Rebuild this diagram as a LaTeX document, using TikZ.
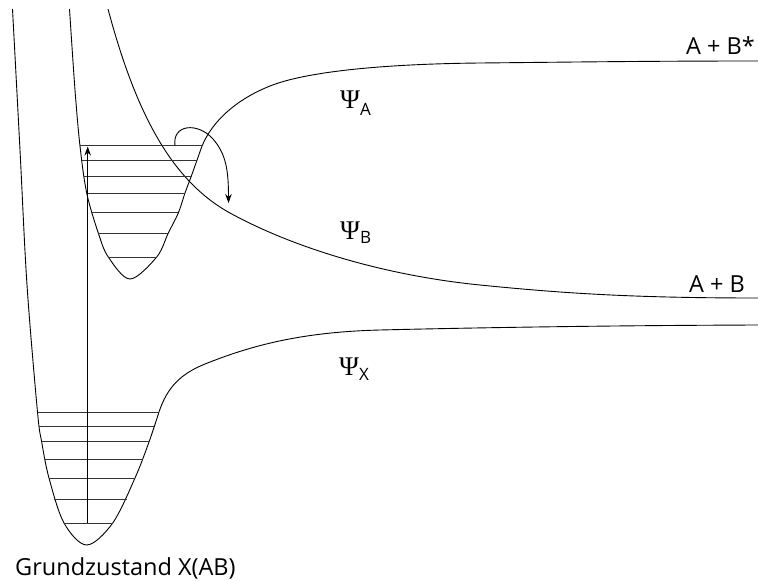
\documentclass[tikz,border=0pt]{standalone}
\usepackage{fontspec}
\setmainfont{Open Sans}
\newfontfamily\grk{Liberation Serif}
\usetikzlibrary{arrows.meta}
\begin{document}
\begin{tikzpicture}[x=1pt,y=-1pt,
  curve/.style={line width=0.9pt, black},
  level/.style={line width=0.8pt, black!80},
  arr/.style={line width=0.9pt, -{Stealth[length=9pt,width=6.5pt]}},
  lbl/.style={inner sep=0pt, font=\fontsize{23.5}{24}\selectfont},
]
\useasboundingbox (0,0) rectangle (758,581);

% ground state X
\draw[curve] plot[smooth, tension=0.55] coordinates {
  (12.5,9) (20,150) (27,285) (37.5,412) (41.7,442) (49,478) (64,523)
  (86.7,545) (112.7,523) (135,478) (149,442) (159,412)};
\draw[curve] (159,412) .. controls (167,388) and (180,374) .. (205,364)
  .. controls (250,346) and (300,332) .. (380,330)
  .. controls (460,328) and (600,325.5) .. (758,325);
% excited state A
\draw[curve] plot[smooth, tension=0.55] coordinates {
  (69.5,9) (75,90) (80,146) (86.7,193) (98.3,233) (108.3,257)
  (130,279) (156.7,257) (168.3,233) (178.3,213) (185,193) (191,177)
  (196.7,161) (202,146)};
\draw[curve] (202,146) .. controls (212,122) and (235,100) .. (270,86)
  .. controls (305,72) and (380,64) .. (480,63)
  .. controls (580,62) and (650,61) .. (758,61);
% repulsive state B
\draw[curve] (108,9) .. controls (135,110) and (170,180) .. (230,213)
  .. controls (290,246) and (380,275) .. (480,285)
  .. controls (560,293) and (630,298) .. (758,298);

% vibrational levels X
\foreach \y/\a/\b in {412/37.7/159, 426/39.2/154, 441.7/41.7/149,
  459/45/142.7, 478.3/49/135, 499/54/126.7, 523.3/64/112.7}
  \draw[level] (\a,\y) -- (\b,\y);
% vibrational levels A
\foreach \y/\a/\b in {145.7/80/202, 160.7/81.8/196.7, 176.7/84.2/191,
  193.3/86.8/185, 212.7/91.7/178.3, 233.3/98.3/168.3, 257.3/108.3/156.7}
  \draw[level] (\a,\y) -- (\b,\y);

% transitions
\coordinate (g0) at (87.7,523.3);
\coordinate (aTop) at (87.7,146.5);
\draw[arr] (g0) -- (aTop);
\coordinate (cS) at (175,145.7);
\coordinate (cE) at (228.5,203);
\draw[arr] (cS) .. controls (172,124) and (198,122) .. (213,139)
  .. controls (226,154) and (228.5,170) .. (cE);

% labels
\node[lbl, anchor=base east] (abs) at (755,54) {A + B*};
\node[lbl, anchor=base east] (ab) at (745,292) {A + B};
\node[lbl, anchor=base west] (gz) at (15,575) {Grundzustand X(AB)};
\node[inner sep=0pt, anchor=base west] (psiA) at (340,108)
  {{\grk\fontsize{27}{27}\selectfont Ψ}\raisebox{-7pt}{\fontsize{17}{17}\selectfont A}};
\node[inner sep=0pt, anchor=base west] (psiB) at (340,239)
  {{\grk\fontsize{27}{27}\selectfont Ψ}\raisebox{-4pt}{\fontsize{17}{17}\selectfont B}};
\node[inner sep=0pt, anchor=base west] (psiX) at (339,375)
  {{\grk\fontsize{27}{27}\selectfont Ψ}\raisebox{-5pt}{\fontsize{17}{17}\selectfont X}};
\end{tikzpicture}
\end{document}
